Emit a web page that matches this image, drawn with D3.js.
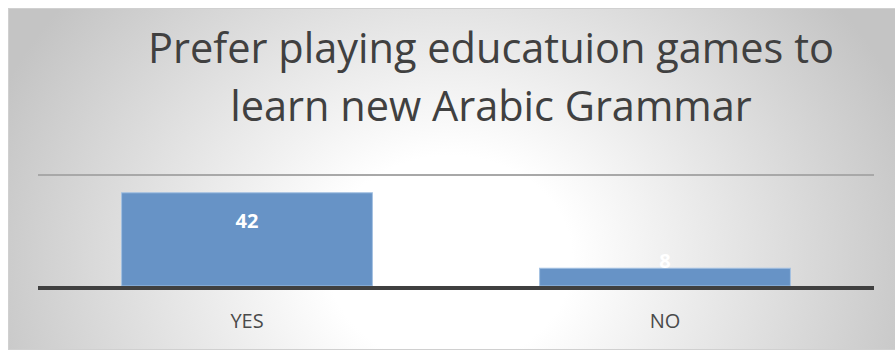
<!DOCTYPE html>
<html>
<head>
<meta charset="utf-8">
<script src="https://cdn.jsdelivr.net/npm/d3@7/dist/d3.min.js"></script>
<style>
  html, body { margin: 0; padding: 0; background: #ffffff; }
  svg { display: block; }
</style>
</head>
<body>
<svg id="chart" width="895" height="352"></svg>
<script>
// Survey answers and counts
const categories = ["YES", "NO"];
const values = [42, 8];
const gridTicks = [50];
const titleLines = ["Prefer playing educatuion games to", "learn new Arabic Grammar"];

const W = 895, H = 352;
const svg = d3.select("#chart");

// Panel background: radial grey-to-white fill
const defs = svg.append("defs");
const grad = defs.append("radialGradient")
  .attr("id", "bg")
  .attr("gradientUnits", "userSpaceOnUse")
  .attr("cx", 450).attr("cy", 260).attr("r", 490)
  .attr("gradientTransform", "translate(450,260) scale(1,0.85) translate(-450,-260)");
grad.append("stop").attr("offset", 0).attr("stop-color", "#ffffff");
grad.append("stop").attr("offset", 0.25).attr("stop-color", "#ffffff");
grad.append("stop").attr("offset", 1).attr("stop-color", "#c4c4c4");

svg.append("rect")
  .attr("x", 8.5).attr("y", 8.5)
  .attr("width", W - 8).attr("height", 341)
  .attr("fill", "url(#bg)")
  .attr("stroke", "#d0d0d0").attr("stroke-width", 1);

// Plot area
const plot = { left: 38, right: 874, top: 175, bottom: 286 };

const x = d3.scaleBand()
  .domain(categories)
  .range([plot.left, plot.right])
  .paddingInner(0.4)
  .paddingOuter(0.2);

const y = d3.scaleLinear()
  .domain([0, 50])
  .range([plot.bottom, plot.top]);

// Horizontal gridline
svg.append("g")
  .selectAll("line")
  .data(gridTicks)
  .join("line")
  .attr("x1", plot.left).attr("x2", plot.right)
  .attr("y1", d => y(d)).attr("y2", d => y(d))
  .attr("stroke", "#a8a8a8")
  .attr("stroke-width", 2);

// Bars
svg.append("g")
  .selectAll("rect")
  .data(values)
  .join("rect")
  .attr("x", (d, i) => x(categories[i]))
  .attr("y", d => y(d))
  .attr("width", x.bandwidth())
  .attr("height", d => y(0) - y(d))
  .attr("fill", "#6793c6")
  .attr("stroke", "#a3c0e2")
  .attr("stroke-width", 1);

// Value labels
svg.append("g")
  .selectAll("text")
  .data(values)
  .join("text")
  .attr("x", (d, i) => x(categories[i]) + x.bandwidth() / 2)
  .attr("y", d => (y(0) - y(d) > 40) ? y(d) + 35 : y(d))
  .attr("text-anchor", "middle")
  .attr("font-family", "'Open Sans', sans-serif")
  .attr("font-weight", 700)
  .attr("font-size", 20)
  .attr("fill", "#ffffff")
  .text(d => d);

// Category axis
const xAxis = svg.append("g")
  .attr("transform", `translate(0,${plot.bottom + 2})`)
  .call(d3.axisBottom(x).tickSize(0).tickPadding(26));
xAxis.select(".domain")
  .attr("d", `M${plot.left},0H${plot.right}`)
  .attr("stroke", "#404040")
  .attr("stroke-width", 4);
xAxis.selectAll("text")
  .attr("font-family", "'Open Sans', sans-serif")
  .attr("font-size", 20)
  .attr("fill", "#4a4a4a");

// Title
svg.append("g")
  .selectAll("text")
  .data(titleLines)
  .join("text")
  .attr("x", 491)
  .attr("y", (d, i) => 63 + i * 58)
  .attr("text-anchor", "middle")
  .attr("font-family", "'Open Sans', sans-serif")
  .attr("font-size", 41.5)
  .attr("fill", "#404040")
  .text(d => d);
</script>
</body>
</html>
